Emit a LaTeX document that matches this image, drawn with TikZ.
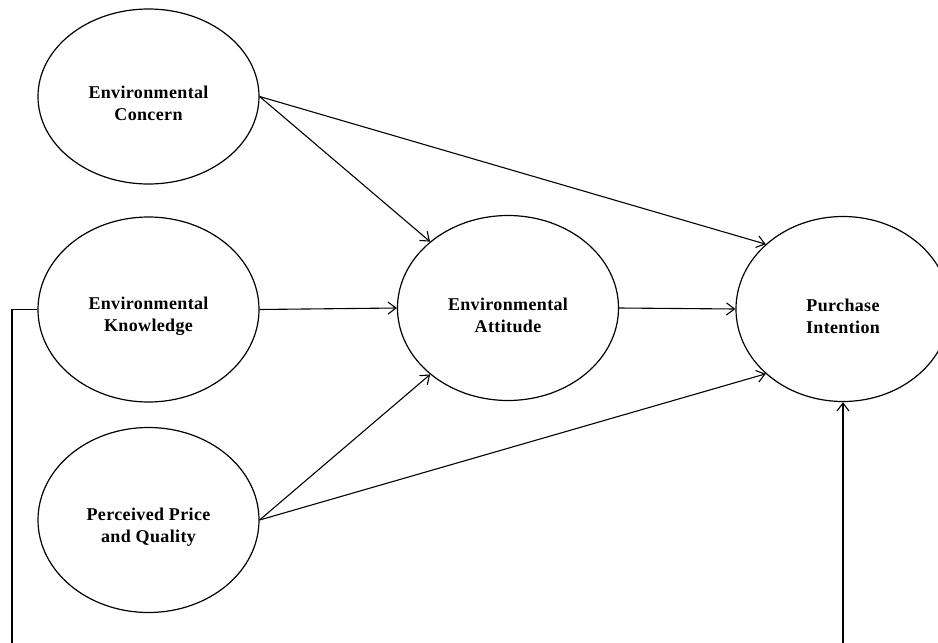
\documentclass[tikz,border=0pt]{standalone}
\usepackage{fontspec}
\setmainfont{Liberation Serif}
\newfontfamily\lblfont[LetterSpace=2]{Liberation Serif}
\usepackage{tikz}
\usetikzlibrary{arrows.meta,shapes.geometric,positioning}

\begin{document}
\begin{tikzpicture}[
		x=1pt, y=-1pt,
		latent/.style = {ellipse, draw=black, line width=1.2pt, minimum width=221pt, minimum height=185pt, inner sep=0pt},
		lbl/.style = {font=\lblfont\fontsize{18}{22}\selectfont\bfseries, align=center, yshift=-7pt},
		path/.style = {-{Straight Barb[length=8pt,width=12pt]}, line width=1.1pt},
	]
	\clip (0,0) rectangle (938,643);

	\node[latent, minimum height=175pt, label={[lbl]center:Environmental\\Concern}] (ec) at (148.5,96.5) {};
	\node[latent, label={[lbl]center:Environmental\\Knowledge}] (ek) at (148.5,309.5) {};
	\node[latent, label={[lbl]center:Perceived Price\\and Quality}] (pq) at (148.5,520) {};
	\node[latent, label={[lbl]center:Environmental\\Attitude}] (ea) at (508,308) {};
	\node[latent, minimum width=214pt, label={[lbl]center:Purchase\\Intention}] (pi) at (843,309) {};

	\coordinate (loop) at (12,670);

	\draw[path] (ec.east) -- (ea);
	\draw[path] (ec.east) -- (pi.140);
	\draw[path] (ek.east) -- (ea.west);
	\draw[path] (ea.east) -- (pi.west);
	\draw[path] (pq.east) -- (ea);
	\draw[path] (pq.east) -- (pi.220);
	\draw[path] (ek.west) -| (loop) -| (pi.south);

\end{tikzpicture}
\end{document}
